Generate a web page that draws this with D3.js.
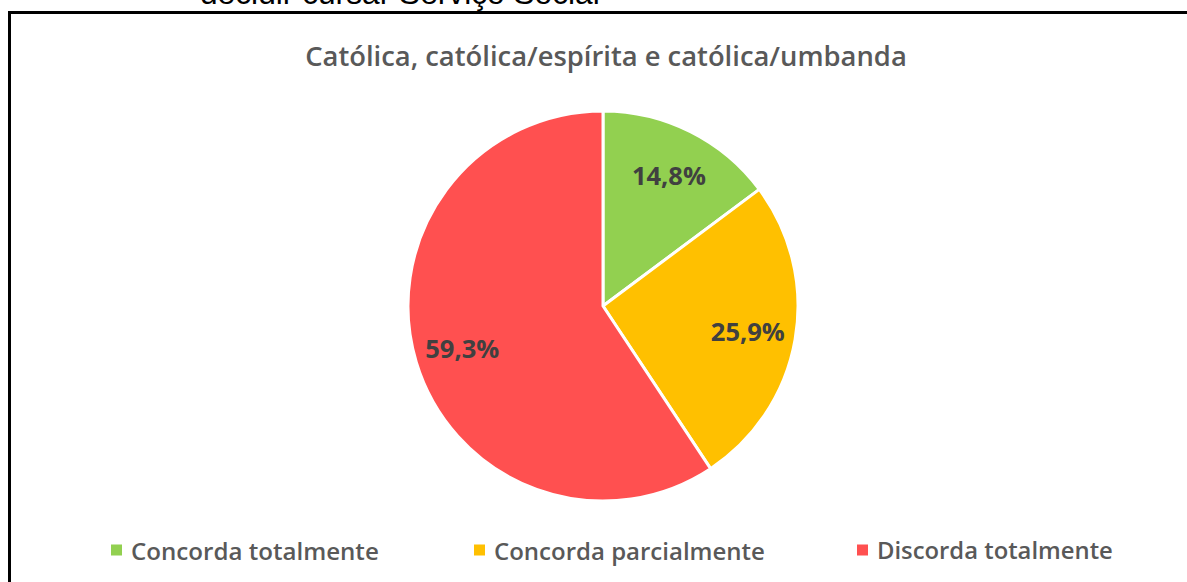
<!DOCTYPE html>
<html>
<head>
<meta charset="utf-8">
<script src="https://cdn.jsdelivr.net/npm/d3@7/dist/d3.min.js"></script>
<style>
  body { margin: 0; background: #fff; }
  svg { display: block; }
</style>
</head>
<body>
<svg width="1187" height="582"></svg>
<script>
const svg = d3.select("svg");
const width = 1187;
const height = 582;

// data
const categories = ['Concorda totalmente', 'Concorda parcialmente', 'Discorda totalmente'];
const values = [14.8, 25.9, 59.3];
const valueLabels = ['14,8%', '25,9%', '59,3%'];
const colors = ['#92D050', '#FFC000', '#FF5050'];
const title = 'Católica, católica/espírita e católica/umbanda';
const caption = 'decidir cursar Serviço Social';

const font = "'Open Sans', 'Noto Sans', sans-serif";

// shrink / grow a text so it has the wanted width
const fitWidth = (sel, target) => {
  const w = sel.node().getComputedTextLength();
  const fs = parseFloat(sel.attr('font-size'));
  sel.attr('font-size', fs * target / w);
};

// caption of the page, cut by the top edge
const cap = svg.append('text')
  .text(caption)
  .attr('x', 200)
  .attr('y', 4)
  .attr('font-family', "'Liberation Sans', Arial, sans-serif")
  .attr('font-size', 24)
  .attr('fill', '#000');
fitWidth(cap, 400);

// frame of the chart (only top and left are visible)
svg.append('path')
  .attr('d', `M9.5,${height} L9.5,12.5 L${width},12.5`)
  .attr('fill', 'none')
  .attr('stroke', '#000')
  .attr('stroke-width', 3);

// title
const titleText = svg.append('text')
  .text(title)
  .attr('x', 606)
  .attr('y', 55)
  .attr('text-anchor', 'middle')
  .attr('dominant-baseline', 'central')
  .attr('font-family', font)
  .attr('font-weight', 600)
  .attr('font-size', 24)
  .attr('fill', '#595959');
fitWidth(titleText, 602);

// pie
const cx = 603, cy = 306, radius = 195, labelRadius = 147;

const pie = d3.pie().sort(null).value(d => d);
const arcs = pie(values);

const arc = d3.arc().innerRadius(0).outerRadius(radius);
const labelArc = d3.arc().innerRadius(labelRadius).outerRadius(labelRadius);

const g = svg.append('g')
  .attr('transform', `translate(${cx},${cy})`);

g.selectAll('path').data(arcs)
  .enter().append('path')
    .attr('d', arc)
    .attr('fill', (d, i) => colors[i])
    .attr('stroke', '#fff')
    .attr('stroke-width', 3)
    .attr('stroke-linejoin', 'round');

g.selectAll('text').data(arcs)
  .enter().append('text')
    .text((d, i) => valueLabels[i])
    .attr('transform', d => `translate(${labelArc.centroid(d)})`)
    .attr('text-anchor', 'middle')
    .attr('dominant-baseline', 'central')
    .attr('font-family', font)
    .attr('font-weight', 700)
    .attr('font-size', 24)
    .attr('fill', '#404040')
    .each(function () { fitWidth(d3.select(this), 74); });

// legend
const legendX = [111, 474, 857];
const legendW = [248, 271, 236];
const legendY = 550;
const box = 11;

const legend = svg.append('g').attr('class', 'legend');

const items = legend.selectAll('g').data(categories)
  .enter().append('g')
    .attr('transform', (d, i) => `translate(${legendX[i]},${legendY})`);

items.append('rect')
  .attr('x', 0)
  .attr('y', -box / 2)
  .attr('width', box)
  .attr('height', box)
  .attr('fill', (d, i) => colors[i]);

items.append('text')
  .text(d => d)
  .attr('x', 20)
  .attr('y', 0)
  .attr('dominant-baseline', 'central')
  .attr('font-family', font)
  .attr('font-weight', 600)
  .attr('font-size', 22)
  .attr('fill', '#595959')
  .each(function (d, i) { fitWidth(d3.select(this), legendW[i]); });
</script>
</body>
</html>
